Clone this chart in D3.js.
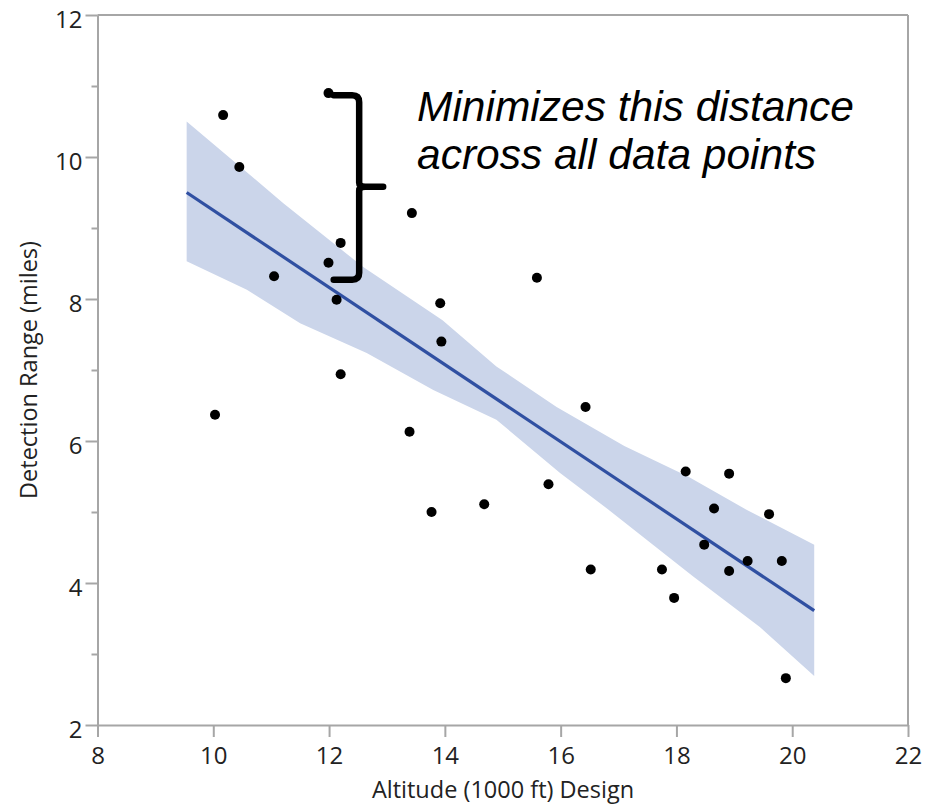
<!DOCTYPE html>
<html>
<head>
<meta charset="utf-8">
<script src="https://cdn.jsdelivr.net/npm/d3@7"></script>
<style>
  html, body { margin: 0; padding: 0; background: #fff; }
  svg { display: block; }
</style>
</head>
<body>
<svg id="chart" width="940" height="804"></svg>
<script>
// ---- data ----
const altitude = [10.03, 10.17, 10.45, 11.05, 11.99, 12.20, 11.99, 12.13, 12.20, 13.43,
                  13.92, 13.94, 15.59, 13.39, 16.43, 13.77, 14.68, 15.79, 18.16, 18.91,
                  18.65, 19.60, 18.48, 19.23, 19.82, 18.91, 16.52, 17.75, 17.96, 19.89];
const detectionRange = [6.37, 10.59, 9.86, 8.32, 10.90, 8.79, 8.51, 7.99, 6.94, 9.21,
                        7.94, 7.40, 8.30, 6.13, 6.48, 5.00, 5.11, 5.39, 5.57, 5.54,
                        5.05, 4.97, 4.54, 4.31, 4.31, 4.17, 4.19, 4.19, 3.79, 2.66];
const fitX = [9.54, 20.38];
const fitY = [9.50, 3.61];
const bandUpperX = [9.54, 11.21, 12.59, 13.96, 14.89, 15.93, 17.10, 18.20, 19.21, 20.38];
const bandUpperY = [10.50, 9.35, 8.45, 7.70, 7.05, 6.48, 5.93, 5.50, 5.03, 4.54];
const bandLowerX = [9.54, 10.58, 11.50, 12.65, 13.80, 14.89, 15.99, 16.80, 18.29, 19.44, 20.38];
const bandLowerY = [8.53, 8.13, 7.66, 7.24, 6.72, 6.30, 5.55, 5.05, 4.09, 3.38, 2.69];
const xTicks = [8, 10, 12, 14, 16, 18, 20, 22];
const yTicks = [2, 4, 6, 8, 10, 12];
const yMinorTicks = [3, 5, 7, 9, 11];
const xTitle = "Altitude (1000 ft) Design";
const yTitle = "Detection Range (miles)";
const noteLines = ["Minimizes this distance", "across all data points"];
// bracket annotation in data units: x of left ends, x of spine, top, middle, bottom
const bracketX0 = 12.08, bracketX1 = 12.52, bracketTop = 10.87, bracketMid = 9.58, bracketBottom = 8.27;

(function () {
// ---- layout ----
const svg = d3.select("#chart");
const mLeft = 97.5, mRight = 908, mTop = 15, mBottom = 725;
const x = d3.scaleLinear().domain([8, 22]).range([mLeft, mRight]);
const y = d3.scaleLinear().domain([2, 12]).range([mBottom, mTop]);
const axisColor = "#a6a6a6";
const labelFont = "'Segoe UI', 'Open Sans', 'Noto Sans', sans-serif";
const tickFontSize = 24, titleFontSize = 23.5;

// band
const upper = bandUpperX.map((v, i) => [x(v), y(bandUpperY[i])]);
const lower = bandLowerX.map((v, i) => [x(v), y(bandLowerY[i])]).reverse();
svg.append("path")
  .attr("d", d3.line().curve(d3.curveLinearClosed)(upper.concat(lower)))
  .attr("fill", "#cbd5ea");

// fit line
svg.append("path")
  .attr("d", d3.line()(fitX.map((v, i) => [x(v), y(fitY[i])])))
  .attr("stroke", "#3050a2").attr("stroke-width", 3.2).attr("fill", "none");

// frame (top & right)
svg.append("line").attr("x1", mLeft).attr("x2", mRight).attr("y1", mTop).attr("y2", mTop)
  .attr("stroke", axisColor).attr("stroke-width", 2);
svg.append("line").attr("x1", mRight).attr("x2", mRight).attr("y1", mTop).attr("y2", mBottom)
  .attr("stroke", axisColor).attr("stroke-width", 2);

// x axis
const gx = svg.append("g").attr("transform", `translate(0,${mBottom})`)
  .call(d3.axisBottom(x).tickValues(xTicks).tickSize(12).tickSizeOuter(0).tickPadding(10));
// y axis
const gy = svg.append("g").attr("transform", `translate(${mLeft},0)`)
  .call(d3.axisLeft(y).tickValues(yTicks).tickSize(12).tickSizeOuter(0).tickPadding(3));
svg.append("g").attr("transform", `translate(${mLeft},0)`)
  .call(d3.axisLeft(y).tickValues(yMinorTicks).tickSize(6).tickFormat(""))
  .call(g => g.select(".domain").remove());

svg.selectAll(".domain").attr("stroke", axisColor).attr("stroke-width", 2);
svg.selectAll(".tick line").attr("stroke", axisColor).attr("stroke-width", 2);
svg.selectAll(".tick text").attr("font-family", labelFont).attr("font-size", tickFontSize).attr("fill", "#222");
gx.selectAll(".tick text").attr("dy", "0.71em");
gy.selectAll(".tick text").attr("dy", "0.5em");

// points
svg.append("g").selectAll("circle")
  .data(altitude.map((v, i) => [v, detectionRange[i]]))
  .join("circle")
  .attr("cx", d => x(d[0])).attr("cy", d => y(d[1])).attr("r", 5)
  .attr("fill", "#000");

// axis titles
svg.append("text").attr("x", 503).attr("y", 798)
  .attr("text-anchor", "middle").attr("font-family", labelFont).attr("font-size", titleFontSize)
  .attr("fill", "#222").text(xTitle);
svg.append("text").attr("transform", `translate(37,${370}) rotate(-90)`)
  .attr("text-anchor", "middle").attr("font-family", labelFont).attr("font-size", titleFontSize)
  .attr("fill", "#222").text(yTitle);

// bracket
const bx0 = x(bracketX0), bx1 = x(bracketX1), byT = y(bracketTop), byM = y(bracketMid), byB = y(bracketBottom);
const r = 7, nub = 24;
const bp = d3.path();
bp.moveTo(bx0, byT);
bp.lineTo(bx1 - r, byT);
bp.quadraticCurveTo(bx1, byT, bx1, byT + r);
bp.lineTo(bx1, byM - 4);
bp.quadraticCurveTo(bx1, byM, bx1 + 6, byM);
bp.lineTo(bx1 + nub, byM);
bp.moveTo(bx1 + 6, byM);
bp.quadraticCurveTo(bx1, byM, bx1, byM + 4);
bp.lineTo(bx1, byB - r);
bp.quadraticCurveTo(bx1, byB, bx1 - r, byB);
bp.lineTo(bx0, byB);
svg.append("path").attr("d", bp.toString())
  .attr("fill", "none").attr("stroke", "#000").attr("stroke-width", 6.5)
  .attr("stroke-linecap", "round").attr("stroke-linejoin", "round");

// note
svg.append("text").attr("x", 417).attr("y", 121)
  .attr("font-family", "'Liberation Sans', Arial, sans-serif").attr("font-style", "italic")
  .attr("font-size", 42.5).attr("fill", "#000")
  .selectAll("tspan").data(noteLines).join("tspan")
  .attr("x", 417).attr("dy", (d, i) => i === 0 ? 0 : 48).text(d => d);
})();
</script>
</body>
</html>
